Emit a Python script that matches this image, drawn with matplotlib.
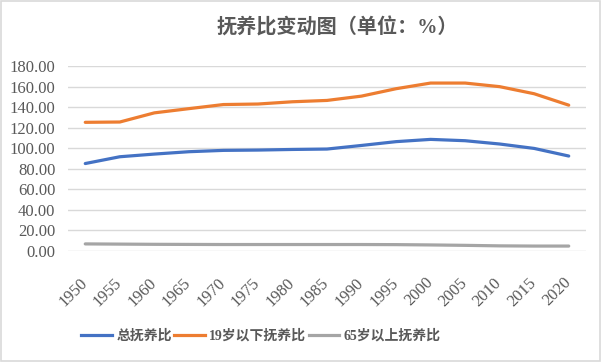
import matplotlib
matplotlib.use("Agg")
import matplotlib.pyplot as plt
from matplotlib.patches import Rectangle
from matplotlib.lines import Line2D
from matplotlib.font_manager import FontProperties
import matplotlib.transforms as mtrans

years = ["1950", "1955", "1960", "1965", "1970", "1975", "1980", "1985",
         "1990", "1995", "2000", "2005", "2010", "2015", "2020"]
total = [85.1, 91.7, 94.3, 96.6, 97.9, 98.2, 98.8, 99.2, 102.7, 106.4, 108.6, 107.3, 104.1, 99.8, 92.4]
under19 = [125.2, 125.5, 134.4, 138.5, 142.5, 143.0, 145.2, 146.5, 150.7, 157.9, 163.4, 163.4, 159.9, 153.0, 141.9]
over65 = [6.9, 6.7, 6.5, 6.4, 6.3, 6.3, 6.3, 6.3, 6.3, 6.2, 5.9, 5.5, 5.0, 4.8, 4.8]
names = ["总抚养比", "19岁以下抚养比", "65岁以上抚养比"]
colors = ["#4472C4", "#ED7D31", "#A5A5A5"]
yticks = [0, 20, 40, 60, 80, 100, 120, 140, 160, 180]

plt.rcParams["font.family"] = ["Liberation Serif", "Noto Sans CJK SC", "DejaVu Sans"]
grey = "#595959"
tick_fp = FontProperties(family="Liberation Serif", size=12)
cjk_title = FontProperties(family=["Liberation Serif", "Noto Sans CJK SC"], size=14.5, weight="bold")
cjk_leg = FontProperties(family=["Liberation Serif", "Noto Sans CJK SC"], size=10, weight="bold")

fig = plt.figure(figsize=(6.02, 3.62), dpi=100)
fig.patches.append(Rectangle((0.002, 0.003), 0.995, 0.993, transform=fig.transFigure,
                             fill=False, edgecolor="#d9d9d9", linewidth=1.2))
ax = fig.add_axes([68/602, 1-251/362, (586-68)/602, (251-66)/362])
x = list(range(len(years)))
for s, c in zip([total, under19, over65], colors):
    ax.plot(x, s, color=c, linewidth=2.3, solid_capstyle="round")

ax.set_xlim(-0.5, len(years)-0.5)
ax.set_ylim(0, 180)
ax.tick_params(axis="both", length=0)
ax.tick_params(axis="y", pad=9)
ax.tick_params(axis="x", pad=17)
ax.set_yticks(yticks)
ax.set_yticklabels([f"{v:.2f}" for v in yticks])
ax.set_xticks(x)
ax.set_xticklabels(years, rotation=45, ha="right", va="top", rotation_mode="anchor")
off = mtrans.ScaledTranslation(-6/100, 0, fig.dpi_scale_trans)
for lab in ax.get_yticklabels():
    lab.set_fontproperties(tick_fp)
    lab.set_color(grey)
for lab in ax.get_xticklabels():
    lab.set_fontproperties(tick_fp)
    lab.set_color(grey)
    lab.set_transform(lab.get_transform() + off)
ax.grid(axis="y", color="#d9d9d9", linewidth=1)
ax.set_axisbelow(True)
for sp in ax.spines.values():
    sp.set_visible(False)

fig.text(337/602, 1-28/362, "抚养比变动图（单位：%）", fontproperties=cjk_title,
         color=grey, ha="center", va="center")

handles = [Line2D([], [], color=c, linewidth=2.3) for c in colors]
fig.legend(handles, names, loc="center", bbox_to_anchor=(261/602, 1-336/362), ncol=3,
           frameon=False, prop=cjk_leg,
           labelcolor=grey, handlelength=2.2, handletextpad=0.3, columnspacing=0.2)

fig.savefig("out.png", dpi=100)
